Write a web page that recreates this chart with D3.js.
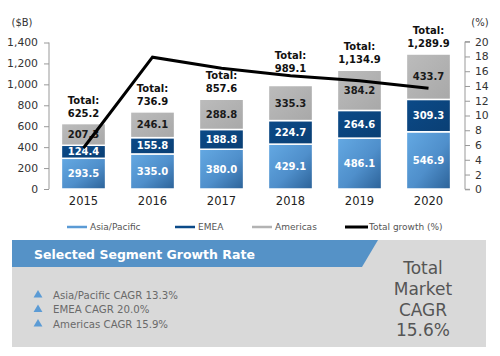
<!DOCTYPE html>
<html><head><meta charset="utf-8">
<script src="https://cdn.jsdelivr.net/npm/d3@7"></script>
<style>body{margin:0;background:#fff}svg{display:block}text{font-family:"DejaVu Sans",Verdana,sans-serif}</style>
</head><body><svg id="c" width="500" height="356"></svg>
<script>
const years = ["2015","2016","2017","2018","2019","2020"];
const asiaPacific = [293.5,335.0,380.0,429.1,486.1,546.9];
const emea = [124.4,155.8,188.8,224.7,264.6,309.3];
const americas = [207.3,246.1,288.8,335.3,384.2,433.7];
const totals = [625.2,736.9,857.6,989.1,1134.9,1289.9];
const totalGrowth = [5.6,17.9,16.4,15.4,14.7,13.7];
const leftTicks = [0,200,400,600,800,1000,1200,1400];
const rightTicks = [0,2,4,6,8,10,12,14,16,18,20];
const seriesNames = ["Asia/Pacific","EMEA","Americas","Total growth (%)"];
const cagrLines = ["Asia/Pacific CAGR 13.3%","EMEA CAGR 20.0%","Americas CAGR 15.9%"];
const headerTitle = "Selected Segment Growth Rate";
const totalCagr = ["Total","Market","CAGR","15.6%"];

const svg = d3.select("#c");
const defs = svg.append("defs");
const gA = defs.append("linearGradient").attr("id","gA").attr("x1","0").attr("y1","0").attr("x2","1").attr("y2","1");
gA.append("stop").attr("offset","0").attr("stop-color","#64a9e3");
gA.append("stop").attr("offset","0.55").attr("stop-color","#4f8fcb");
gA.append("stop").attr("offset","1").attr("stop-color","#2c6298");
const gE = defs.append("linearGradient").attr("id","gE").attr("x1","0").attr("y1","0").attr("x2","1").attr("y2","1");
gE.append("stop").attr("offset","0").attr("stop-color","#0b4a88");
gE.append("stop").attr("offset","1").attr("stop-color","#0a3f74");
const gM = defs.append("linearGradient").attr("id","gM").attr("x1","0").attr("y1","0").attr("x2","1").attr("y2","1");
gM.append("stop").attr("offset","0").attr("stop-color","#bcbcbc");
gM.append("stop").attr("offset","1").attr("stop-color","#a8a8a8");

const x = d3.scaleBand().domain(years).range([49,463]).paddingInner(0.36).paddingOuter(0.18);
const y = d3.scaleLinear().domain([0,1400]).range([189,42.5]);
const y2 = d3.scaleLinear().domain([0,20]).range([189.3,41.7]);

// axes
const ax = svg.append("g").attr("transform","translate(49,0)")
  .call(d3.axisLeft(y).tickValues(leftTicks).tickSize(5).tickPadding(6).tickFormat(d3.format(",")));
ax.select(".domain").attr("stroke","#999").attr("d","M0,"+y(1400)+"V"+y(0));
ax.selectAll(".tick line").attr("stroke","#999");
ax.selectAll("text").attr("font-size","10.8px").attr("fill","#333").style("font-family","DejaVu Sans");

const ar = svg.append("g").attr("transform","translate(465,0)")
  .call(d3.axisRight(y2).tickValues(rightTicks).tickSize(5).tickPadding(5));
ar.select(".domain").attr("stroke","#999").attr("d","M5,"+y2(20)+"H0V"+y2(0)+"H5");
ar.selectAll(".tick line").attr("stroke","#999");
ar.selectAll("text").attr("font-size","10.8px").attr("fill","#333").style("font-family","DejaVu Sans");

svg.append("text").attr("x",22).attr("y",26).attr("text-anchor","middle").attr("font-size","10px").attr("fill","#333").text("($B)");
svg.append("text").attr("x",480).attr("y",26).attr("text-anchor","middle").attr("font-size","10px").attr("fill","#333").text("(%)");

// x labels
svg.append("g").selectAll("text").data(years).join("text")
  .attr("x",d=>x(d)+x.bandwidth()/2).attr("y",205).attr("text-anchor","middle")
  .attr("font-size","11.5px").attr("fill","#222").text(d=>d);

// stacked bars
const rows = years.map((yr,i)=>({year:yr,asia:asiaPacific[i],emea:emea[i],americas:americas[i]}));
const stack = d3.stack().keys(["asia","emea","americas"])(rows);
const fills = {asia:"url(#gA)",emea:"url(#gE)",americas:"url(#gM)"};
const labelFill = {asia:"#fff",emea:"#fff",americas:"#1a1a1a"};
stack.forEach(s=>{
  const g = svg.append("g");
  g.selectAll("rect").data(s).join("rect")
    .attr("x",d=>x(d.data.year)).attr("width",x.bandwidth())
    .attr("y",d=>y(d[1])).attr("height",d=>y(d[0])-y(d[1]))
    .attr("fill",fills[s.key]).attr("stroke","#fff").attr("stroke-width",1.5);
  g.selectAll("text").data(s).join("text")
    .attr("x",d=>x(d.data.year)+x.bandwidth()/2).attr("y",d=>(y(d[0])+y(d[1]))/2)
    .attr("dy","0.36em").attr("text-anchor","middle").attr("font-size","10px").attr("font-weight","bold")
    .attr("fill",labelFill[s.key]).text(d=>(d[1]-d[0]).toFixed(1));
});

// totals (lifted above the growth line when it would run through them)
const tg = svg.append("g");
totals.forEach((t,i)=>{
  const cx = x(years[i])+x.bandwidth()/2;
  const top = y(t);
  const ly = y2(totalGrowth[i]);
  let base = top-7;
  if (ly < top && ly > top-30 && i>0) base = Math.min(base, ly-4);
  tg.append("text").attr("x",cx).attr("y",base-13).attr("text-anchor","middle").attr("font-size","10px").attr("font-weight","bold").attr("fill","#111").text("Total:");
  tg.append("text").attr("x",cx).attr("y",base).attr("text-anchor","middle").attr("font-size","10px").attr("font-weight","bold").attr("fill","#111").text(d3.format(",.1f")(t));
});

// growth line
svg.append("path").datum(totalGrowth)
  .attr("fill","none").attr("stroke","#000").attr("stroke-width",3).attr("stroke-linejoin","miter")
  .attr("d",d3.line().x((d,i)=>x(years[i])+x.bandwidth()/2).y(d=>y2(d)));

// legend
const legColors = ["#5b9bd5","#0b4a88","#b3b3b3","#000"];
const legX = [67,175,252,345];
const lg = svg.append("g");
seriesNames.forEach((n,i)=>{
  lg.append("line").attr("x1",legX[i]).attr("x2",legX[i]+(i==3?23:20)).attr("y1",227).attr("y2",227)
    .attr("stroke",legColors[i]).attr("stroke-width",i==3?3:2.5);
  lg.append("text").attr("x",legX[i]+(i==3?24:23)).attr("y",227).attr("dy","0.35em").attr("font-size","9px").attr("fill","#555").text(n);
});

// bottom panel
svg.append("rect").attr("x",12).attr("y",240).attr("width",474).attr("height",107).attr("fill","#d9d9d9");
svg.append("path").attr("d","M12,240H378L362,267H12Z").attr("fill","#5592c7");
svg.append("text").attr("x",34).attr("y",254).attr("dy","0.36em").attr("font-size","12.5px").attr("font-weight","bold").attr("fill","#fff").text(headerTitle);

const bg = svg.append("g");
cagrLines.forEach((t,i)=>{
  const cy = 295 + i*14.5;
  bg.append("path").attr("transform",`translate(38,${cy})`).attr("d",d3.symbol(d3.symbolTriangle,34)()).attr("fill","#5b9bd5");
  bg.append("text").attr("x",53).attr("y",cy).attr("dy","0.35em").attr("font-size","10.2px").attr("fill","#6a6a6a").text(t);
});
totalCagr.forEach((t,i)=>{
  svg.append("text").attr("x",423).attr("y",268+i*20.7).attr("dy","0.36em").attr("text-anchor","middle")
    .attr("font-size","17px").attr("fill","#555").text(t);
});
</script></body></html>
